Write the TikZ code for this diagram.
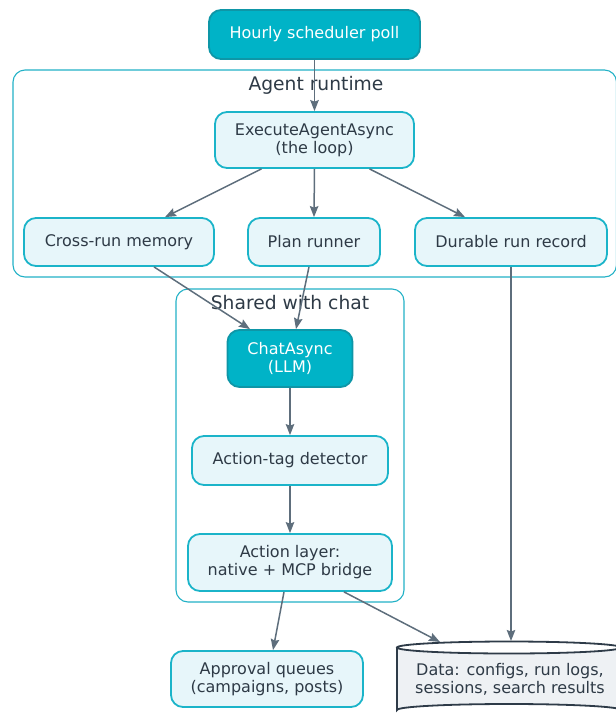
\documentclass[tikz,border=0pt]{standalone}
\usepackage{fontspec}
\setmainfont{DejaVu Sans}
\usetikzlibrary{arrows.meta}

\definecolor{corefill}{HTML}{00B3C7}
\definecolor{coredraw}{HTML}{0E96A7}
\definecolor{softfill}{HTML}{E7F6FA}
\definecolor{softdraw}{HTML}{1BB4C9}
\definecolor{groupdraw}{HTML}{22B1C6}
\definecolor{inktext}{HTML}{2E3A46}
\definecolor{wirecol}{HTML}{5E6E7C}
\definecolor{storefill}{HTML}{EEF1F4}
\definecolor{storedraw}{HTML}{2E3B48}

\tikzset{
  basebox/.style={rectangle, rounded corners=12pt, line width=1.8pt, inner sep=0pt,
    align=center, font=\fontsize{16}{18}\selectfont},
  corebox/.style={basebox, fill=corefill, draw=coredraw, text=white},
  softbox/.style={basebox, fill=softfill, draw=softdraw, text=inktext},
  group/.style={draw=groupdraw, line width=1.1pt, rounded corners=12pt},
  grouplabel/.style={anchor=base, text=inktext, inner sep=0pt, font=\fontsize{18.7}{22}\selectfont},
  wire/.style={draw=wirecol, line width=1.5pt, -{Stealth[length=11pt,width=8.5pt,inset=1.5pt]}}
}

\begin{document}
\begin{tikzpicture}[x=1pt,y=-1pt]
\useasboundingbox (0,0) rectangle (616,716);

% groups
\draw[group] (13,70) rectangle (616.5,277);
\node[grouplabel] (rtlabel) at (316,90.5) {Agent runtime};
\draw[group] (176,289) rectangle (404,602);
\node[grouplabel] (chatlabel) at (290,309) {Shared with chat};

% data store
\fill[storefill] (397,647.5) -- (397,710) arc[start angle=180,end angle=360,x radius=112,y radius=6]
  -- (621,647.5) arc[start angle=0,end angle=180,x radius=112,y radius=6] -- cycle;
\draw[storedraw, line width=1.8pt] (397,647.5) -- (397,710) arc[start angle=180,end angle=360,x radius=112,y radius=6]
  -- (621,647.5);
\draw[storedraw, line width=1.8pt] (509,647.5) ellipse[x radius=112,y radius=6];
\node[text=inktext, align=center, inner sep=0pt, font=\fontsize{16}{18.5}\selectfont] (data) at (510,679.5)
  {Data: configs, run logs,\\sessions, search results};
\coordinate (datatopA) at (511,641);
\coordinate (datatopB) at (440,642);

% nodes
\node[corebox, minimum width=211pt, minimum height=49pt] (poll) at (314.5,34.5) {Hourly scheduler poll};
\node[softbox, minimum width=199pt, minimum height=56pt] (exec) at (314.5,140) {ExecuteAgentAsync\\(the loop)};
\node[softbox, minimum width=190pt, minimum height=48pt] (mem) at (119,242) {Cross-run memory};
\node[softbox, minimum width=132pt, minimum height=48pt] (plan) at (314,242) {Plan runner};
\node[softbox, minimum width=192pt, minimum height=48pt] (rec) at (511,242) {Durable run record};
\node[corebox, minimum width=125pt, minimum height=57pt] (chat) at (290,358.5) {ChatAsync\\(LLM)};
\node[softbox, minimum width=196pt, minimum height=49pt] (detect) at (290,460.5) {Action-tag detector};
\node[softbox, minimum width=204pt, minimum height=57pt] (act) at (290,562.5) {Action layer:\\native + MCP bridge};
\node[softbox, minimum width=192pt, minimum height=56pt] (approve) at (267,679) {Approval queues\\(campaigns, posts)};

% connectors
\draw[wire] (poll.south) -- (exec.north);
\draw[wire] ([xshift=-53pt]exec.south) -- ([xshift=46pt]mem.north);
\draw[wire] (exec.south) -- (plan.north);
\draw[wire] ([xshift=55pt]exec.south) -- ([xshift=-46pt]rec.north);
\draw[wire] ([xshift=35pt]mem.south) -- ([xshift=-40pt]chat.north);
\draw[wire] ([xshift=-5pt]plan.south) -- ([xshift=6pt]chat.north);
\draw[wire] (rec.south) -- (datatopA);
\draw[wire] (chat.south) -- (detect.north);
\draw[wire] (detect.south) -- (act.north);
\draw[wire] ([xshift=-6pt]act.south) -- ([xshift=6pt]approve.north);
\draw[wire] ([xshift=54pt]act.south) -- (datatopB);
\end{tikzpicture}
\end{document}
